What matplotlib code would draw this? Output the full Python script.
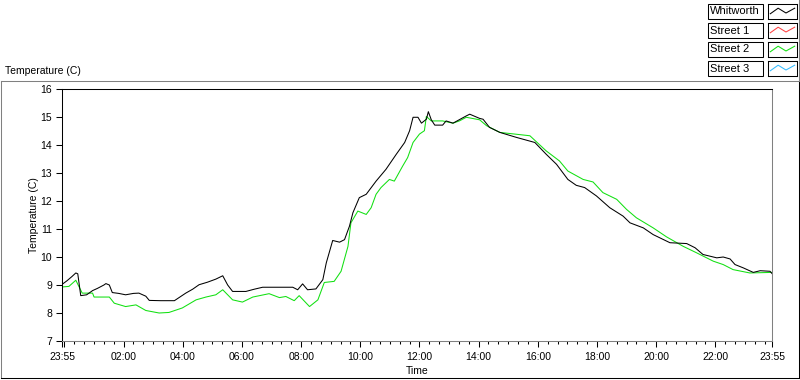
import matplotlib
matplotlib.use('Agg')
import matplotlib.pyplot as plt
from matplotlib.lines import Line2D
from matplotlib.patches import Rectangle
from matplotlib.ticker import FixedLocator

plt.rcParams['font.family'] = ['Liberation Sans', 'DejaVu Sans']
plt.rcParams['font.size'] = 7.5

# series names / colours
series = ['Whitworth', 'Street 1', 'Street 2', 'Street 3']
colors = ['black', '#ff4040', '#11e011', '#33bbff']

# time in minutes since 23:55, temperature in C
whit_t = [0, 10, 20, 28, 32, 38, 50, 62, 72, 85, 89, 96, 102, 115, 129, 145, 156, 170, 177, 200,
          228, 251, 265, 278, 295, 312, 326, 336, 346, 373, 390, 407, 440, 468, 478, 488, 498, 515,
          529, 536, 549, 563, 573, 583, 590, 603, 617, 637, 657, 678, 695, 705, 712, 722, 729, 739,
          743, 749, 756, 772, 779, 793, 820, 827, 847, 854, 867, 888, 922, 959, 982, 1003, 1026,
          1043, 1060, 1084, 1111, 1138, 1152, 1179, 1199, 1233, 1267, 1284, 1300, 1328, 1341, 1355,
          1365, 1382, 1402, 1416, 1436, 1440]
whit_v = [9.02, 9.15, 9.3, 9.43, 9.4, 8.62, 8.65, 8.8, 8.88, 9.0, 9.05, 9.0, 8.73, 8.7, 8.65, 8.7,
          8.71, 8.6, 8.45, 8.44, 8.44, 8.71, 8.85, 9.01, 9.1, 9.21, 9.33, 9.0, 8.77, 8.77, 8.85, 8.92,
          8.92, 8.92, 8.83, 9.04, 8.83, 8.86, 9.19, 9.79, 10.59, 10.53, 10.62, 11.10, 11.58, 12.12,
          12.24, 12.71, 13.13, 13.67, 14.09, 14.51, 14.99, 14.99, 14.78, 14.92, 15.19, 14.9, 14.71,
          14.71, 14.86, 14.78, 15.04, 15.10, 14.95, 14.92, 14.63, 14.45, 14.27, 14.09, 13.67, 13.31,
          12.77, 12.56, 12.48, 12.18, 11.76, 11.46, 11.22, 11.04, 10.80, 10.51, 10.48, 10.33, 10.09,
          9.97, 10.0, 9.93, 9.73, 9.61, 9.45, 9.51, 9.49, 9.41]

st2_t = [0, 14, 28, 41, 62, 65, 96, 106, 129, 150, 170, 197, 217, 244, 272, 292, 312, 326, 346,
         366, 387, 420, 441, 454, 471, 481, 502, 519, 532, 552, 566, 580, 586, 600, 617, 627, 637,
         647, 664, 674, 691, 701, 712, 725, 735, 739, 749, 772, 793, 806, 820, 847, 861, 888, 949,
         982, 1009, 1026, 1057, 1077, 1097, 1125, 1145, 1165, 1199, 1226, 1260, 1287, 1321, 1341,
         1361, 1395, 1440]
st2_v = [8.93, 8.95, 9.17, 8.71, 8.71, 8.57, 8.57, 8.35, 8.23, 8.29, 8.09, 8.0, 8.02, 8.18, 8.47,
         8.57, 8.65, 8.83, 8.47, 8.39, 8.57, 8.69, 8.55, 8.59, 8.44, 8.62, 8.23, 8.47, 9.09, 9.13,
         9.49, 10.38, 11.22, 11.64, 11.52, 11.76, 12.24, 12.48, 12.77, 12.71, 13.25, 13.55, 14.09,
         14.39, 14.51, 15.02, 14.86, 14.86, 14.78, 14.86, 14.99, 14.90, 14.69, 14.45, 14.33, 13.79,
         13.43, 13.07, 12.77, 12.68, 12.30, 12.06, 11.70, 11.40, 11.04, 10.72, 10.38, 10.15, 9.85,
         9.73, 9.55, 9.43, 9.45]

# Street 1 and Street 3 have no data on the chart
st1_t, st1_v = [], []
st3_t, st3_v = [], []

xtick_pos = [0, 5, 125, 245, 365, 485, 605, 725, 845, 965, 1085, 1205, 1325, 1440]
xtick_lab = ['23:55', '', '02:00', '04:00', '06:00', '08:00', '10:00', '12:00', '14:00',
             '16:00', '18:00', '20:00', '22:00', '23:55']
ytick_pos = [7, 8, 9, 10, 11, 12, 13, 14, 15, 16]

W, H = 800, 380
LW = 0.75  # one pixel at 100 dpi
fig = plt.figure(figsize=(W / 100, H / 100), dpi=100)
fig.patch.set_facecolor('white')


def fx(x):
    return x / W


def fy(y):
    return 1 - y / H


# outer frame: grey top/left, black right/bottom
fig.add_artist(Line2D([fx(1), fx(799)], [fy(81), fy(81)], color='#808080', lw=LW))
fig.add_artist(Line2D([fx(1), fx(1)], [fy(81), fy(378)], color='#808080', lw=LW))
fig.add_artist(Line2D([fx(1), fx(799)], [fy(378), fy(378)], color='black', lw=LW))
fig.add_artist(Line2D([fx(799), fx(799)], [fy(81), fy(378)], color='black', lw=LW))
fig.add_artist(Line2D([fx(798.5), fx(798.5)], [fy(0), fy(81)], color='#808080', lw=LW))

fig.text(fx(5), fy(71), 'Temperature (C)', ha='left', va='center')

ax = fig.add_axes([fx(62), 1 - 341 / H, 710 / W, 252 / H])
lines = [(whit_t, whit_v), (st1_t, st1_v), (st2_t, st2_v), (st3_t, st3_v)]
# draw green first so black sits on top
for i in [1, 2, 3, 0]:
    t, v = lines[i]
    ax.plot(t, v, color=colors[i], lw=LW)

ax.set_xlim(0, 1440)
ax.set_ylim(7, 16)
ax.set_xticks(xtick_pos)
ax.set_xticklabels(xtick_lab)
ax.xaxis.set_minor_locator(FixedLocator(list(range(25, 1440, 20))))
ax.set_yticks(ytick_pos)
ax.tick_params(axis='both', which='major', direction='out', length=4, width=LW, color='black', pad=3)
ax.tick_params(axis='both', which='minor', direction='out', length=2.5, width=LW, color='black')
ax.tick_params(axis='x', pad=4)
for s in ['left', 'top']:
    ax.spines[s].set_color('black')
for s in ['right', 'bottom']:
    ax.spines[s].set_color('#808080')
for s in ax.spines.values():
    s.set_linewidth(LW)
ax.set_xlabel('Time', labelpad=3)
ax.set_ylabel('Temperature (C)', labelpad=1)

# legend boxes, top right
for i, name in enumerate(series):
    top = 4 + 19 * i
    fig.add_artist(Rectangle((fx(708), fy(top + 15)), 55 / W, 15 / H, transform=fig.transFigure,
                             fill=False, edgecolor='black', lw=LW))
    fig.text(fx(710), fy(top + 7.5), name, ha='left', va='center', fontsize=8)
    lax = fig.add_axes([fx(768), fy(top + 15), 29 / W, 15 / H])
    lax.plot([0.08, 0.35, 0.62, 0.92], [0.35, 0.72, 0.4, 0.72], color=colors[i], lw=LW)
    lax.set_xlim(0, 1)
    lax.set_ylim(0, 1)
    lax.set_xticks([])
    lax.set_yticks([])
    for s in lax.spines.values():
        s.set_color('black')
        s.set_linewidth(LW)

fig.savefig('out.png', dpi=100)
